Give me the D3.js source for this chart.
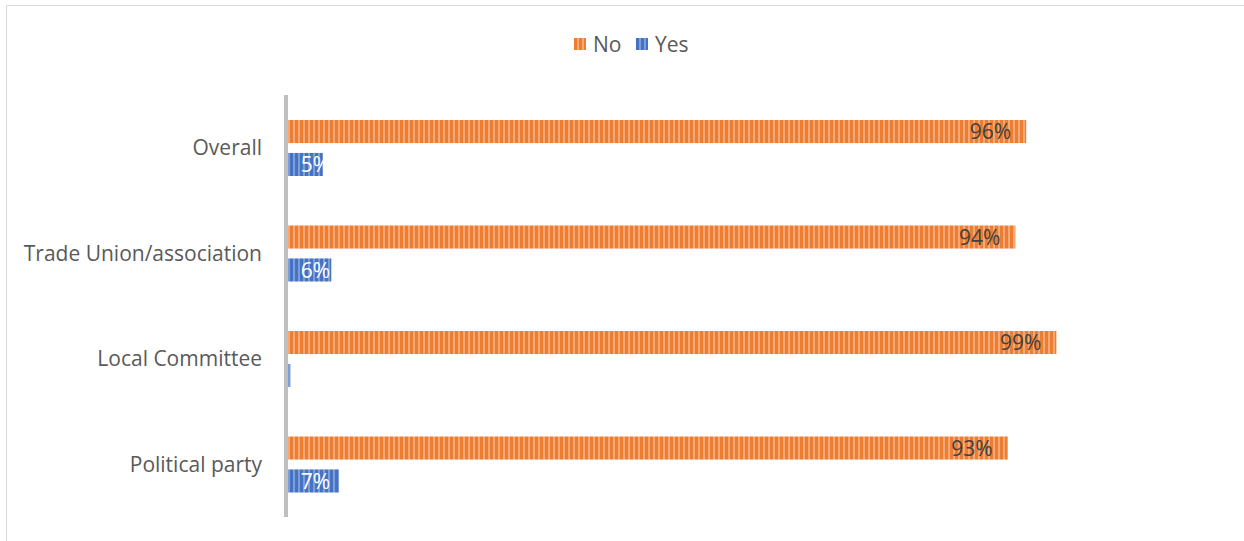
<!DOCTYPE html>
<html lang="en">
<head>
    <meta charset="UTF-8">
    <title>Membership bars</title>
    <script src="https://d3js.org/d3.v7.min.js"></script>
    <style>
        body { margin: 0; background: #fff; }
        text { font-family: "Open Sans", "Noto Sans", sans-serif; }
    </style>
</head>
<body>
<svg></svg>
<script>
    let categories = ["Overall", "Trade Union/association", "Local Committee", "Political party"];
    let seriesNames = ["No", "Yes"];
    let noValues = [95.5, 94.1, 99.4, 93.1];
    let yesValues = [4.5, 5.6, 0.3, 6.6];

    let width = 1244;
    let height = 541;

    let svg = d3.select("svg")
        .attr("width", width)
        .attr("height", height);

    // striped fills, like the Excel pattern
    let defs = svg.append("defs");
    function stripes(id, base, light) {
        let p = defs.append("pattern")
            .attr("id", id)
            .attr("patternUnits", "userSpaceOnUse")
            .attr("width", 5)
            .attr("height", 10);
        p.append("rect").attr("width", 5).attr("height", 10).attr("fill", base);
        p.append("rect").attr("x", 3).attr("width", 2).attr("height", 10).attr("fill", light);
    }
    stripes("stripeNo", "#ED7D31", "#F6A877");
    stripes("stripeYes", "#4472C4", "#7F9ED8");
    let fills = {No: "url(#stripeNo)", Yes: "url(#stripeYes)"};

    // chart border
    svg.append("rect")
        .attr("x", 6.5).attr("y", 5.5)
        .attr("width", 1400).attr("height", 700)
        .attr("fill", "none")
        .attr("stroke", "#d9d9d9");

    let x0 = 288;
    let x = d3.scaleLinear().domain([0, 100]).range([x0, 1061]);
    let y = d3.scaleBand().domain(categories).range([95, 517]);
    let inner = d3.scaleBand().domain(seriesNames).range([25, 81]).paddingInner(0.3);

    let rows = categories.map((c, i) => ({cat: c, No: noValues[i], Yes: yesValues[i]}));

    let groups = svg.selectAll("g.row").data(rows)
        .enter()
        .append("g")
        .attr("class", "row")
        .attr("transform", d => "translate(0," + y(d.cat) + ")");

    seriesNames.forEach(s => {
        groups.append("rect")
            .attr("x", x0)
            .attr("y", inner(s))
            .attr("width", d => x(d[s]) - x0)
            .attr("height", inner.bandwidth())
            .attr("fill", fills[s]);

        groups.append("text")
            .attr("x", d => Math.max(x(d[s]) - 15, x0 + 42))
            .attr("y", inner(s) + inner.bandwidth() / 2)
            .attr("dy", "0.36em")
            .attr("text-anchor", "end")
            .attr("font-size", 21)
            .attr("fill", s === "No" ? "#404040" : "#ffffff")
            .text(d => Math.round(d[s]) + "%");
    });

    // category axis
    svg.append("rect")
        .attr("x", 284).attr("y", 95)
        .attr("width", 4).attr("height", 422)
        .attr("fill", "#bfbfbf");

    svg.selectAll("text.cat").data(categories)
        .enter()
        .append("text")
        .attr("class", "cat")
        .attr("x", 262)
        .attr("y", d => y(d) + y.bandwidth() / 2)
        .attr("dy", "0.36em")
        .attr("text-anchor", "end")
        .attr("font-size", 21)
        .attr("fill", "#595959")
        .text(d => d);

    // legend
    let legendX = [574, 636];
    let legend = svg.selectAll("g.legend").data(seriesNames)
        .enter()
        .append("g")
        .attr("class", "legend")
        .attr("transform", (d, i) => "translate(" + legendX[i] + ",38)");
    legend.append("rect")
        .attr("width", 12).attr("height", 12)
        .attr("fill", d => fills[d]);
    legend.append("text")
        .attr("x", 19).attr("y", 6)
        .attr("dy", "0.36em")
        .attr("font-size", 21)
        .attr("fill", "#595959")
        .text(d => d);
</script>
</body>
</html>
